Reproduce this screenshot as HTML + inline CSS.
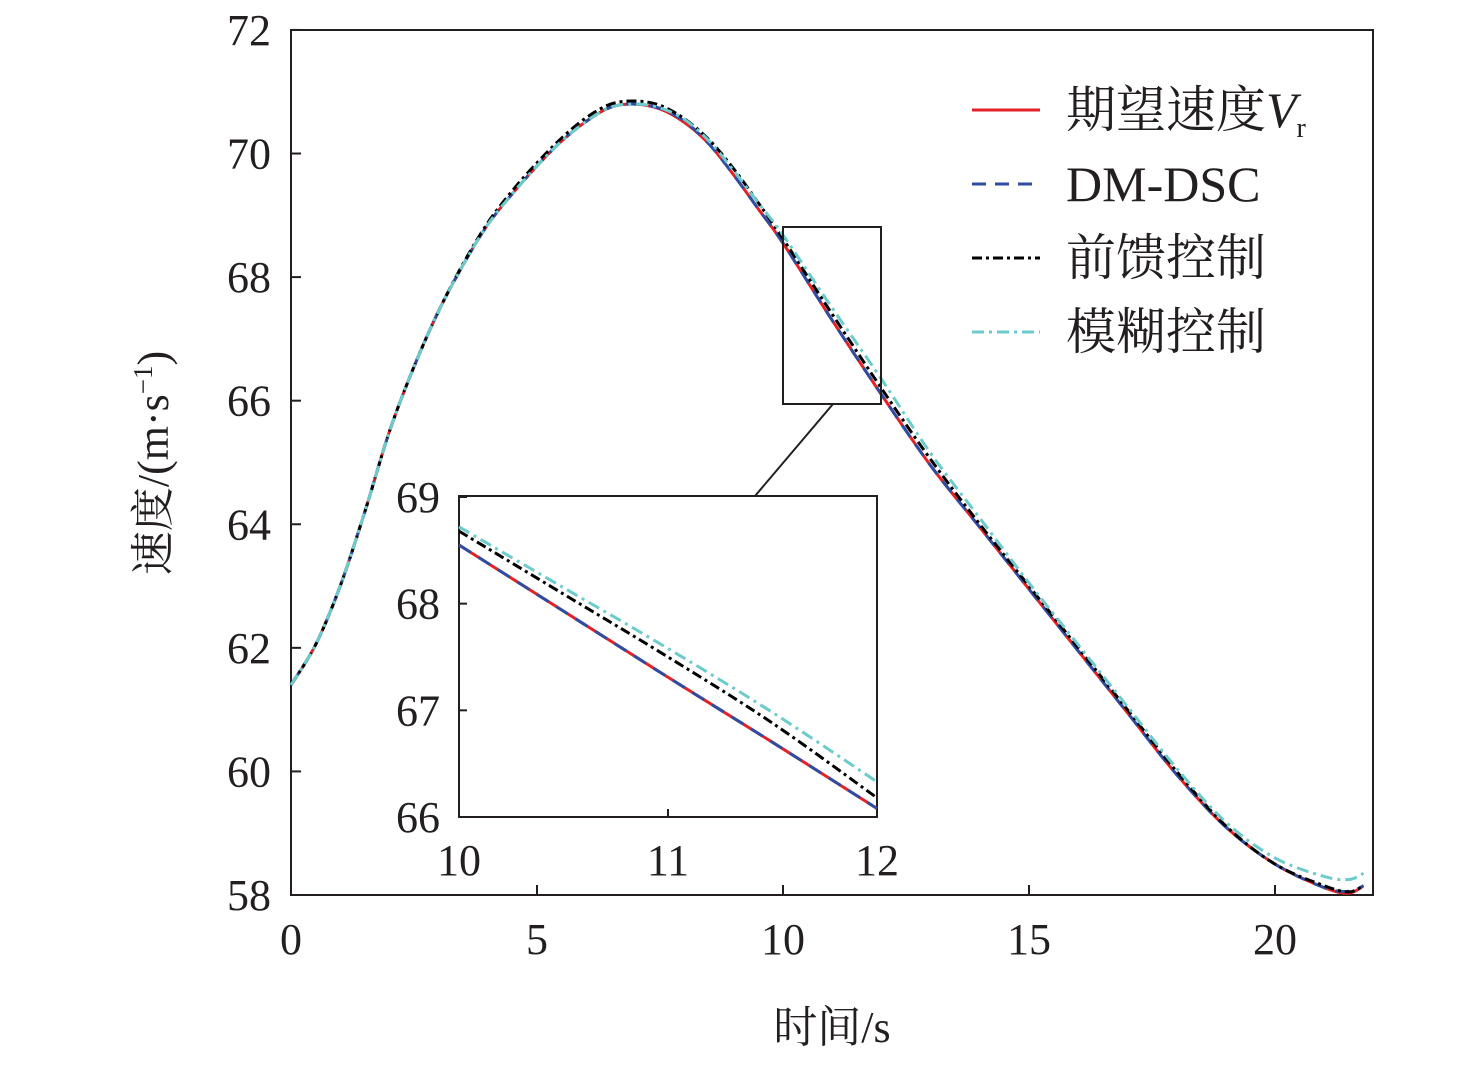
<!DOCTYPE html>
<html><head><meta charset="utf-8"><style>
body{margin:0;background:#fff}
svg text{font-family:"Liberation Serif","Noto Serif CJK SC",serif;fill:#231f20}
</style></head><body>
<svg id="c" width="1476" height="1062" viewBox="0 0 1476 1062" xmlns="http://www.w3.org/2000/svg"></svg>
<script>
const tMain=[0,0.5,1,1.5,2,2.5,3,3.5,4,4.5,5,5.5,6,6.5,7,7.5,8,8.5,9,9.5,10,11,12,13,14,15,16,17,18,19,20,21,21.5,21.8];
const vRef=[61.4,62.05,63.0,64.2,65.5,66.55,67.45,68.2,68.85,69.35,69.8,70.2,70.52,70.75,70.8,70.72,70.5,70.15,69.65,69.1,68.55,67.3,66.1,64.95,63.95,62.95,61.95,60.95,59.95,59.1,58.5,58.12,58.03,58.15];
const vDsc=[61.4,62.05,63.0,64.2,65.5,66.55,67.45,68.2,68.85,69.35,69.8,70.2,70.52,70.75,70.8,70.73,70.52,70.15,69.65,69.1,68.55,67.3,66.1,64.95,63.95,62.95,61.95,60.95,59.95,59.1,58.5,58.12,58.06,58.15];
const vFf=[61.4,62.05,63.0,64.2,65.5,66.55,67.45,68.22,68.88,69.4,69.85,70.25,70.58,70.8,70.85,70.78,70.56,70.22,69.75,69.2,68.62,67.4,66.2,65.05,64.0,63.0,62.0,61.0,60.0,59.12,58.5,58.15,58.05,58.15];
const vFz=[61.4,62.05,63.0,64.2,65.5,66.55,67.45,68.2,68.85,69.35,69.8,70.2,70.52,70.75,70.8,70.74,70.55,70.2,69.72,69.2,68.68,67.5,66.35,65.15,64.1,63.05,62.05,61.05,60.05,59.18,58.6,58.3,58.25,58.35];
const tIn=[10,10.5,11,11.5,12];
const iRef=[68.55,67.93,67.31,66.7,66.08];
const iDsc=[68.55,67.93,67.31,66.7,66.08];
const iFf=[68.68,68.09,67.5,66.88,66.18];
const iFz=[68.72,68.15,67.58,66.98,66.33];
const xTicks=[0,5,10,15,20];
const yTicks=[58,60,62,64,66,68,70,72];
const xTicksIn=[10,11,12];
const yTicksIn=[66,67,68,69];
const NS="http://www.w3.org/2000/svg",svg=document.getElementById('c');
function mk(tag,a,p){const e=document.createElementNS(NS,tag);for(const k in a)e.setAttribute(k,a[k]);(p||svg).appendChild(e);return e;}
const X=t=>291+t*49.2, Y=v=>895-(v-58)*61.79;
const XI=t=>459+(t-10)*209, YI=v=>817-(v-66)*106.67;
function path(ts,vs,fx,fy){const p=ts.map((t,i)=>[fx(t),fy(vs[i])]);let d="M"+p[0][0]+","+p[0][1];
for(let i=0;i<p.length-1;i++){const p0=p[Math.max(0,i-1)],p1=p[i],p2=p[i+1],p3=p[Math.min(p.length-1,i+2)];
d+=" C"+(p1[0]+(p2[0]-p0[0])/6)+","+(p1[1]+(p2[1]-p0[1])/6)+" "+(p2[0]-(p3[0]-p1[0])/6)+","+(p2[1]-(p3[1]-p1[1])/6)+" "+p2[0]+","+p2[1];}return d;}
const styles=[["#e32228","",vRef,iRef,"series-reference"],["#2e4da0","14,9",vDsc,iDsc,"series-dm-dsc"],["#000","10,4,3,4",vFf,iFf,"series-feedforward"],["#6ccbcc","12,5,3,5",vFz,iFz,"series-fuzzy"]];
let e=mk('rect',{x:291,y:30,width:1082,height:865,fill:'none',stroke:'#231f20','stroke-width':2});

xTicks.forEach(t=>{let l=mk('line',{x1:X(t),x2:X(t),y1:895,y2:885,stroke:'#231f20','stroke-width':2});
let tx=mk('text',{x:X(t),y:954,'font-size':44,'text-anchor':'middle'});tx.textContent=t;});
yTicks.forEach(v=>{let l=mk('line',{x1:291,x2:301,y1:Y(v),y2:Y(v),stroke:'#231f20','stroke-width':2});
let tx=mk('text',{x:271,y:Y(v)+15,'font-size':44,'text-anchor':'end'});tx.textContent=v;});
styles.forEach(s=>{let p=mk('path',{d:path(tMain,s[2],X,Y),fill:'none',stroke:s[0],'stroke-width':3,'stroke-dasharray':s[1]});});
let xt=mk('text',{x:832,y:1042,'font-size':44,'text-anchor':'middle'});xt.textContent='时间/s';
let yt=mk('text',{x:0,y:0,'font-size':44,'text-anchor':'middle',transform:'translate(168,463) rotate(-90)'});yt.innerHTML='速度/(m·s<tspan dy="-16" font-size="27">−1</tspan><tspan dy="16">)</tspan>';
e=mk('rect',{x:783,y:227,width:98,height:177,fill:'none',stroke:'#231f20','stroke-width':2});
e=mk('line',{x1:833,y1:404,x2:755,y2:496,stroke:'#231f20','stroke-width':2});
const g=mk('g',{});
e=mk('rect',{x:459,y:496,width:418,height:321,fill:'#fff',stroke:'#231f20','stroke-width':2},g);
styles.forEach(s=>{let p=mk('path',{d:path(tIn,s[3],XI,YI),fill:'none',stroke:s[0],'stroke-width':3,'stroke-dasharray':s[1]},g);});
xTicksIn.forEach(t=>{let tx=mk('text',{x:XI(t),y:875,'font-size':44,'text-anchor':'middle'},g);tx.textContent=t;
let l=mk('line',{x1:XI(t),x2:XI(t),y1:817,y2:809,stroke:'#231f20','stroke-width':2},g);});
yTicksIn.forEach(v=>{let tx=mk('text',{x:440,y:YI(v)+15,'font-size':44,'text-anchor':'end'},g);tx.textContent=v;
let l=mk('line',{x1:459,x2:467,y1:YI(v),y2:YI(v),stroke:'#231f20','stroke-width':2},g);});
const labels=['期望速度','DM-DSC','前馈控制','模糊控制'];
labels.forEach((lb,i)=>{const y=110+i*74;
let l=mk('line',{x1:972,x2:1040,y1:y,y2:y,stroke:styles[i][0],'stroke-width':3,'stroke-dasharray':styles[i][1]});
let t=mk('text',{x:1066,y:y+17,'font-size':50});
if(i==0)t.innerHTML='期望速度<tspan font-style="italic">V</tspan><tspan font-size="28" dy="10">r</tspan>';else t.textContent=lb;});
</script>
</body></html>
